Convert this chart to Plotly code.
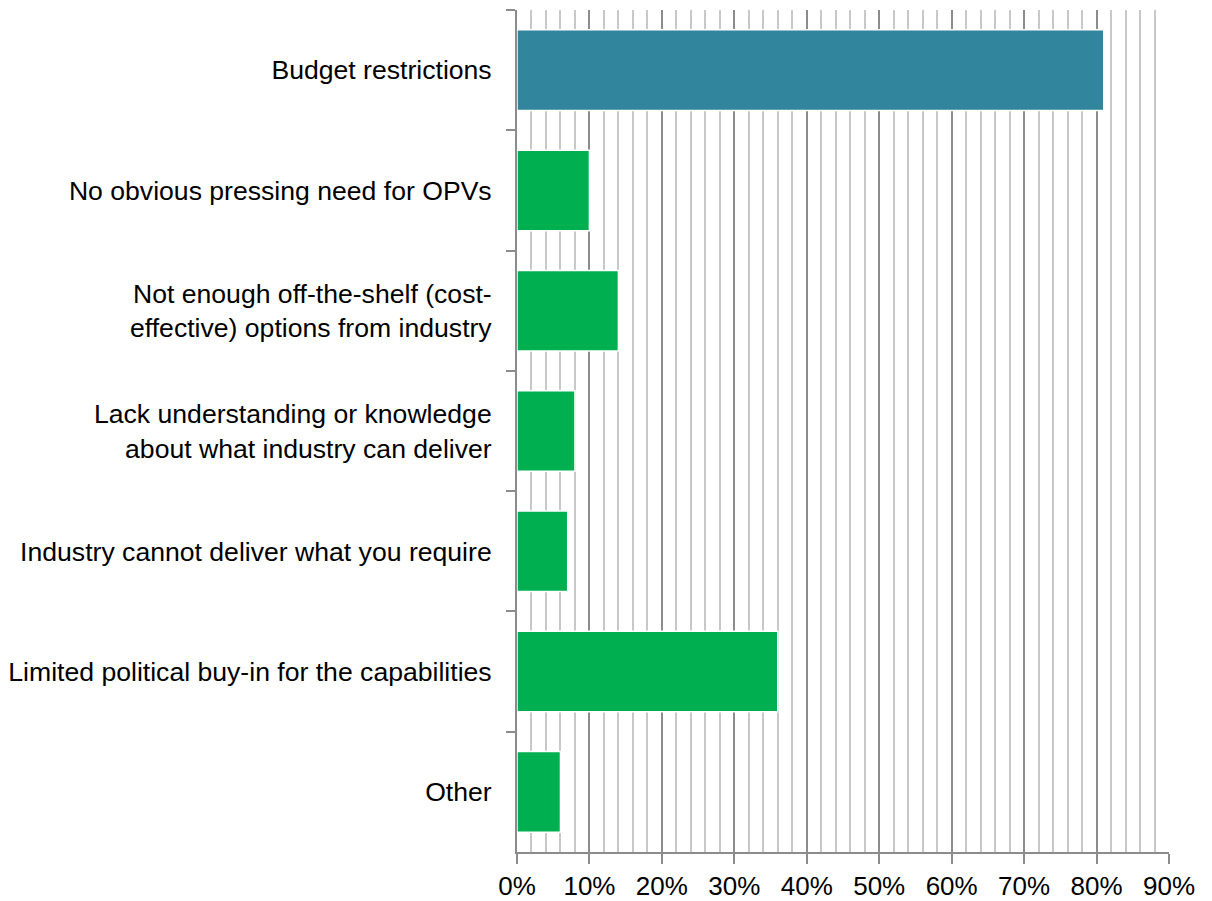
import plotly.graph_objects as go

categories = [
    "Budget restrictions",
    "No obvious pressing need for OPVs",
    "Not enough off-the-shelf (cost-<br>effective) options from industry",
    "Lack understanding or knowledge<br>about what industry can deliver",
    "Industry cannot deliver what you require",
    "Limited political buy-in for the capabilities",
    "Other",
]
values = [81, 10, 14, 8, 7, 36, 6]
colors = ["#31859C", "#00B050", "#00B050", "#00B050", "#00B050", "#00B050", "#00B050"]
x_ticks = [0, 10, 20, 30, 40, 50, 60, 70, 80, 90]
x_labels = [f"{v}%" for v in x_ticks]

fig = go.Figure(
    go.Bar(
        x=values,
        y=categories,
        orientation="h",
        marker=dict(color=colors, line=dict(color="white", width=1.5)),
        hoverinfo="skip",
    )
)

font = "Liberation Sans, Arial, sans-serif"
fig.update_layout(
    width=1212,
    height=901,
    margin=dict(l=509, r=51, t=2, b=57),
    paper_bgcolor="white",
    plot_bgcolor="white",
    bargap=0.33,
    showlegend=False,
    font=dict(family=font, size=26.6, color="black"),
)
fig.update_xaxes(
    automargin=False,
    range=[0, 90],
    tickvals=x_ticks,
    ticktext=x_labels,
    showgrid=True,
    gridcolor="#8c8c8c",
    gridwidth=2,
    minor=dict(dtick=2, showgrid=True, gridcolor="#c8c8c8", gridwidth=2, ticks=""),
    showline=True,
    linecolor="#8c8c8c",
    linewidth=2,
    ticks="outside",
    ticklen=10,
    tickwidth=2,
    tickcolor="#8c8c8c",
    zeroline=False,
    tickfont=dict(size=26, color="black"),
)
fig.update_yaxes(
    automargin=False,
    autorange="reversed",
    showgrid=False,
    showline=True,
    linecolor="#8c8c8c",
    linewidth=2,
    ticks="outside",
    tickson="boundaries",
    ticklen=9,
    tickwidth=2,
    tickcolor="#8c8c8c",
    tickfont=dict(size=26.6, color="black"),
    ticklabelstandoff=18,
)

fig.write_html("out.html")
